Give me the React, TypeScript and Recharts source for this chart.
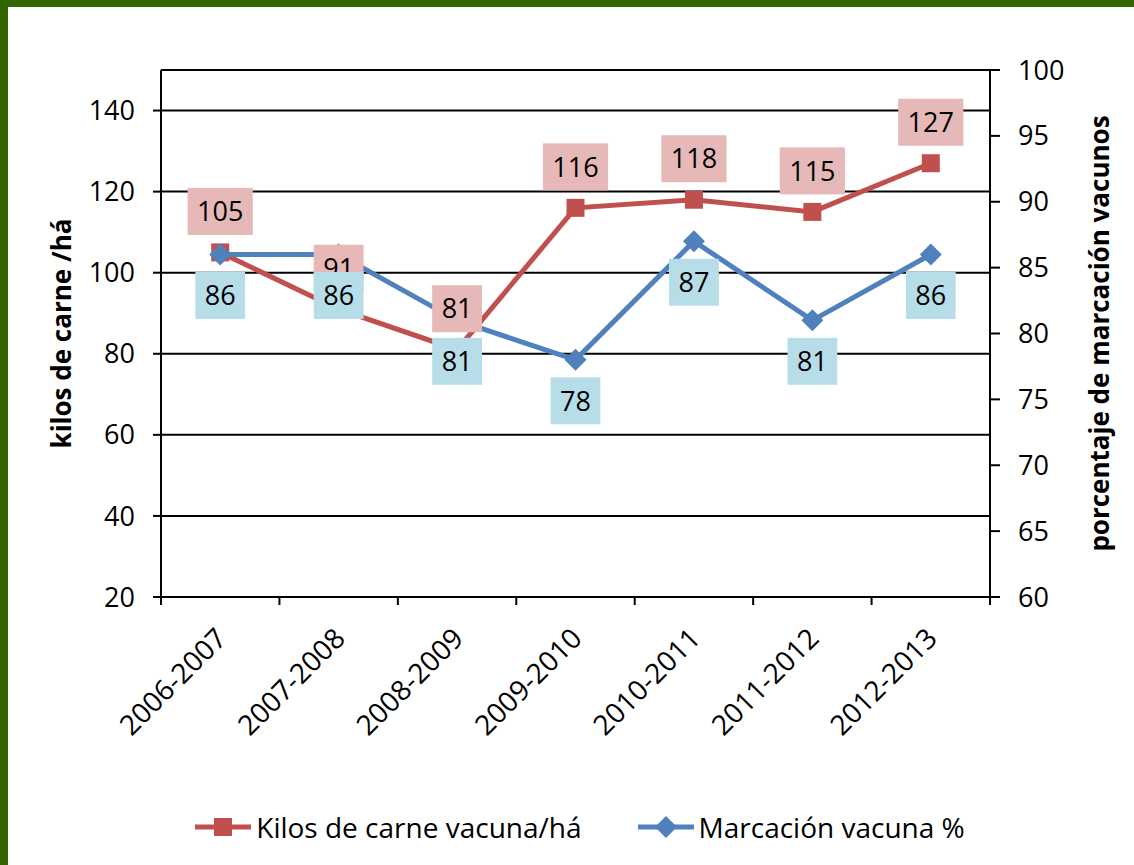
import { ComposedChart, Line, XAxis, YAxis, CartesianGrid, ReferenceLine, LabelList, Legend } from 'recharts'

const seasons = ['2006-2007', '2007-2008', '2008-2009', '2009-2010', '2010-2011', '2011-2012', '2012-2013']
const kilos = [105, 91, 81, 116, 118, 115, 127]
const marcacion = [86, 86, 81, 78, 87, 81, 86]
const leftTicks = [20, 40, 60, 80, 100, 120, 140]
const rightTicks = [60, 65, 70, 75, 80, 85, 90, 95, 100]

const RED = '#C0504D'
const BLUE = '#4F81BD'
const FONT = "'Open Sans', sans-serif"
const W = 1134
const H = 865
const BAND = (990 - 161) / seasons.length

const data = seasons.map((s, i) => ({ season: s, kilos: kilos[i], marcacion: marcacion[i] }))

function SquareDot(props: any) {
  const { cx, cy } = props
  if (cx == null || cy == null) return null
  return <rect x={cx - 9} y={cy - 9} width={18} height={18} fill={RED} />
}

function DiamondDot(props: any) {
  const { cx, cy } = props
  if (cx == null || cy == null) return null
  return <polygon points={`${cx},${cy - 11} ${cx + 11},${cy} ${cx},${cy + 11} ${cx - 11},${cy}`} fill={BLUE} />
}

function boxLabel(fill: string, dir: number) {
  return (props: any) => {
    const vb = props.viewBox || {}
    const x = (vb.x ?? props.x) + (vb.width ?? 0) / 2
    const y = (vb.y ?? props.y) + (vb.height ?? 0) / 2
    const text = String(props.value)
    const w = text.length * 15.4 + 19
    const h = 47
    const cy = y + dir * 41
    return (
      <g>
        <rect x={x - w / 2} y={cy - h / 2} width={w} height={h} fill={fill} />
        <text x={x} y={cy} dy="0.36em" textAnchor="middle" fontSize={27} fontFamily={FONT} fill="#000">{text}</text>
      </g>
    )
  }
}

function SeasonTick(props: any) {
  const { x, y, payload, index } = props
  const ax = x + 1
  const ay = y + 28
  return (
    <g>
      <line x1={x - BAND / 2} y1={y - 8} x2={x - BAND / 2} y2={y} stroke="#000" strokeWidth={2} />
      {index === seasons.length - 1 && (
        <line x1={x + BAND / 2} y1={y - 8} x2={x + BAND / 2} y2={y} stroke="#000" strokeWidth={2} />
      )}
      <text x={ax} y={ay} dy="0.36em" textAnchor="end" transform={`rotate(-45, ${ax}, ${ay})`} fontSize={28} fontFamily={FONT} fill="#000">
        {payload.value}
      </text>
    </g>
  )
}

function axisTitle(text: string, dx: number) {
  return (props: any) => {
    const vb = props.viewBox || {}
    const x = vb.x + dx
    const y = vb.y + vb.height / 2
    return (
      <text x={x} y={y} dy="0.36em" textAnchor="middle" transform={`rotate(-90, ${x}, ${y})`} fontSize={26} fontWeight="bold" fontFamily={FONT} fill="#000">
        {text}
      </text>
    )
  }
}

function LegendItems() {
  const items = [
    { name: 'Kilos de carne vacuna/há', color: RED, shape: 'square' },
    { name: 'Marcación vacuna %', color: BLUE, shape: 'diamond' },
  ]
  return (
    <div style={{ display: 'flex', justifyContent: 'center', alignItems: 'center', gap: 56, paddingLeft: 26, height: 40, fontFamily: FONT, fontSize: 28, color: '#000' }}>
      {items.map(it => (
        <div key={it.name} style={{ display: 'flex', alignItems: 'center' }}>
          <svg width={56} height={24}>
            <line x1={0} y1={12} x2={56} y2={12} stroke={it.color} strokeWidth={5} />
            {it.shape === 'square'
              ? <rect x={19} y={3} width={18} height={18} fill={it.color} />
              : <polygon points="28,1 39,12 28,23 17,12" fill={it.color} />}
          </svg>
          <span style={{ marginLeft: 5, whiteSpace: 'nowrap' }}>{it.name}</span>
        </div>
      ))}
    </div>
  )
}

export default function App() {
  return (
    <div style={{ position: 'fixed', left: 0, top: 0, width: W, height: H, background: '#fff', overflow: 'hidden' }}>
      <ComposedChart width={W} height={H} data={data} margin={{ top: 70, right: 0, bottom: 0, left: 0 }}>
        <CartesianGrid yAxisId="left" vertical={false} stroke="#000" strokeWidth={2} />
        <XAxis
          dataKey="season"
          scale="band"
          height={268}
          axisLine={{ stroke: '#000', strokeWidth: 2 }}
          tickLine={false}
          tickSize={8}
          tickMargin={0}
          interval={0}
          tick={<SeasonTick />}
        />
        <YAxis
          yAxisId="left"
          width={161}
          domain={[20, 150]}
          ticks={leftTicks}
          allowDataOverflow
          axisLine={{ stroke: '#000', strokeWidth: 2 }}
          tickLine={{ stroke: '#000', strokeWidth: 2 }}
          tickSize={8}
          tickMargin={18}
          tick={{ fill: '#000', fontSize: 27, fontFamily: FONT }}
          label={axisTitle('kilos de carne /há', 62)}
        />
        <YAxis
          yAxisId="right"
          orientation="right"
          width={144}
          domain={[60, 100]}
          ticks={rightTicks}
          axisLine={{ stroke: '#000', strokeWidth: 2 }}
          tickLine={{ stroke: '#000', strokeWidth: 2 }}
          tickSize={10}
          tickMargin={18}
          tick={{ fill: '#000', fontSize: 27, fontFamily: FONT }}
          label={axisTitle('porcentaje de marcación vacunos', 110)}
        />
        <ReferenceLine yAxisId="left" y={150} stroke="#000" strokeWidth={2} />
        <Line yAxisId="left" type="linear" dataKey="kilos" name="Kilos de carne vacuna/há" stroke={RED} strokeWidth={5} dot={<SquareDot />} activeDot={false} isAnimationActive={false} />
        <Line yAxisId="right" type="linear" dataKey="marcacion" name="Marcación vacuna %" stroke={BLUE} strokeWidth={5} dot={<DiamondDot />} activeDot={false} isAnimationActive={false} />
        <Line yAxisId="left" dataKey="kilos" stroke="none" dot={false} activeDot={false} legendType="none" isAnimationActive={false}>
          <LabelList dataKey="kilos" content={boxLabel('#E6B9B8', -1)} />
        </Line>
        <Line yAxisId="right" dataKey="marcacion" stroke="none" dot={false} activeDot={false} legendType="none" isAnimationActive={false}>
          <LabelList dataKey="marcacion" content={boxLabel('#B7DEE8', 1)} />
        </Line>
        <Legend verticalAlign="middle" align="center" wrapperStyle={{ top: 807, left: 0, width: W }} content={() => <LegendItems />} />
      </ComposedChart>
      <div style={{ position: 'absolute', left: 0, top: 0, width: W, height: 7, background: '#336600' }} />
      <div style={{ position: 'absolute', left: 0, top: 0, width: 8, height: H, background: '#336600' }} />
    </div>
  )
}
